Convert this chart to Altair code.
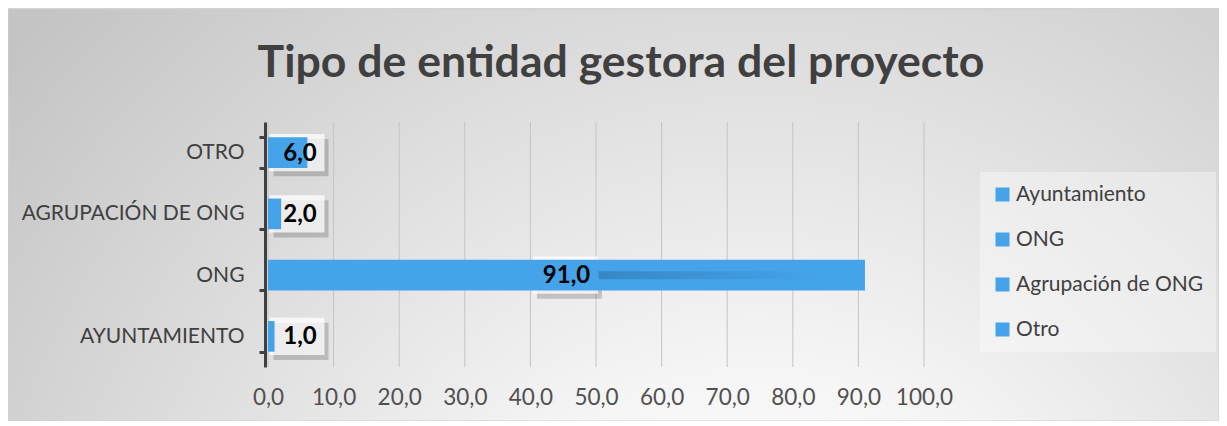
import altair as alt
import pandas as pd

categorias = ["AYUNTAMIENTO", "ONG", "AGRUPACIÓN DE ONG", "OTRO"]
leyenda = ["Ayuntamiento", "ONG", "Agrupación de ONG", "Otro"]
valores = [1.0, 91.0, 2.0, 6.0]
etiquetas = ["1,0", "91,0", "2,0", "6,0"]
ticks_x = [0, 10, 20, 30, 40, 50, 60, 70, 80, 90, 100]

df = pd.DataFrame({"cat": categorias, "serie": leyenda, "valor": valores, "etiqueta": etiquetas})
df_ticks = pd.DataFrame({"t": ticks_x})

AZUL = "#45A4E9"
FONT = "Lato"
W, H = 656, 245
orden = categorias[::-1]

x_scale = alt.Scale(domain=[0, 100], nice=False)
y_scale = alt.Scale(paddingInner=0.5, paddingOuter=0.25)

fondo = alt.Chart(df).mark_rect(
    fill={"gradient": "radial", "x1": 0.62, "y1": 0.88, "r1": 0.0,
          "x2": 0.62, "y2": 0.88, "r2": 0.8,
          "stops": [{"offset": 0, "color": "#ffffff"},
                    {"offset": 0.3, "color": "#f6f6f6"},
                    {"offset": 1, "color": "#c4c4c4"}]},
    stroke="#d0d0d0", strokeWidth=1
).encode(x=alt.value(-260), x2=alt.value(W + 295), y=alt.value(-113), y2=alt.value(H + 54))

rejilla = alt.Chart(df_ticks).mark_rule(color="#c4c4c4", strokeWidth=1).encode(
    x=alt.X("t:Q", scale=x_scale), y=alt.value(0), y2=alt.value(H))

barras = alt.Chart(df).mark_bar(stroke=None).encode(
    x=alt.X("valor:Q", scale=x_scale, title=None,
            axis=alt.Axis(values=ticks_x, domain=False, ticks=False, grid=False, zindex=2,
                          labelOverlap=False, labelFlush=False,
                          labelFont=FONT, labelFontSize=22.5, labelColor="#505050",
                          labelPadding=19,
                          labelExpr="replace(format(datum.value, '.1f'), '.', ',')")),
    y=alt.Y("cat:N", sort=orden, title=None, scale=y_scale,
            axis=alt.Axis(tickBand="extent", domainColor="#404040", domainWidth=3,
                          tickColor="#404040", tickWidth=3, tickSize=6, offset=3, zindex=2,
                          labelFont=FONT, labelFontSize=21, labelColor="#404040",
                          labelPadding=15, labelLimit=400, grid=False)),
    color=alt.Color("serie:N", scale=alt.Scale(domain=leyenda, range=[AZUL] * 4),
                    legend=alt.Legend(title=None, orient="none", legendX=712, legendY=50,
                                      fillColor="rgba(255,255,255,0.35)", padding=12,
                                      symbolType="square", symbolSize=196, symbolStrokeWidth=0,
                                      labelFont=FONT, labelFontSize=21, labelColor="#404040",
                                      labelOffset=3, rowPadding=23, labelLimit=300)),
)

caja_peq = "M -1 -0.68 L 1 -0.68 L 1 0.68 L -1 0.68 Z"
caja_gra = "M -1 -0.57 L 1 -0.57 L 1 0.57 L -1 0.57 Z"

base = alt.Chart(df)
peq = base.transform_filter("datum.valor <= 50")
gra = base.transform_filter("datum.valor > 50").transform_calculate(pos="datum.valor / 2")

y_plain = alt.Y("cat:N", sort=orden, scale=y_scale)

sombra_peq = peq.mark_point(shape=caja_peq, size=3025, filled=True, fill="#000000",
                            opacity=0.18, xOffset=33, yOffset=5).encode(
    x=alt.datum(0, scale=x_scale), y=y_plain)
caja_p = peq.mark_point(shape=caja_peq, size=3025, filled=True, fill="#ffffff",
                        opacity=0.75, xOffset=29).encode(x=alt.datum(0, scale=x_scale), y=y_plain)
texto_p = peq.mark_text(font=FONT, fontSize=24, fontWeight="bold", color="#000000",
                        xOffset=32, yOffset=1).encode(
    x=alt.datum(0, scale=x_scale), y=y_plain, text="etiqueta:N")

sombra_gra = gra.mark_point(shape=caja_gra, size=4225, filled=True, fill="#000000",
                            opacity=0.18, xOffset=3, yOffset=5).encode(
    x=alt.X("pos:Q", scale=x_scale), y=y_plain)
caja_g = gra.mark_point(shape=caja_gra, size=4225, filled=True, fill="#ffffff",
                        opacity=0.75, xOffset=-1).encode(x=alt.X("pos:Q", scale=x_scale), y=y_plain)
estela = gra.mark_bar(
    size=8, yOffset=0, xOffset=32, x2Offset=-40,
    fill={"gradient": "linear", "x1": 0, "y1": 0, "x2": 1, "y2": 0,
          "stops": [{"offset": 0, "color": "rgba(20,60,100,0.28)"},
                    {"offset": 1, "color": "rgba(20,60,100,0.0)"}]}
).encode(x=alt.X("pos:Q", scale=x_scale), x2="valor:Q", y=y_plain)
texto_g = gra.mark_text(font=FONT, fontSize=24, fontWeight="bold", color="#000000",
                        yOffset=1).encode(
    x=alt.X("pos:Q", scale=x_scale), y=y_plain, text="etiqueta:N")

chart = alt.layer(
    fondo, rejilla, sombra_peq, caja_p, sombra_gra, caja_g, barras, estela, texto_p, texto_g
).properties(
    width=W, height=H,
    title=alt.TitleParams("Tipo de entidad gestora del proyecto", font=FONT, fontSize=44.6,
                          fontWeight="bold", color="#404040", anchor="middle", dx=25,
                          offset=-78, frame="group"),
    padding={"left": 260, "top": 114, "right": 295, "bottom": 54},
    autosize=alt.AutoSizeParams(type="none"),
).configure_view(stroke=None).configure(background="white")

chart.save("out.html", embed_options={"renderer": "svg", "actions": False})
